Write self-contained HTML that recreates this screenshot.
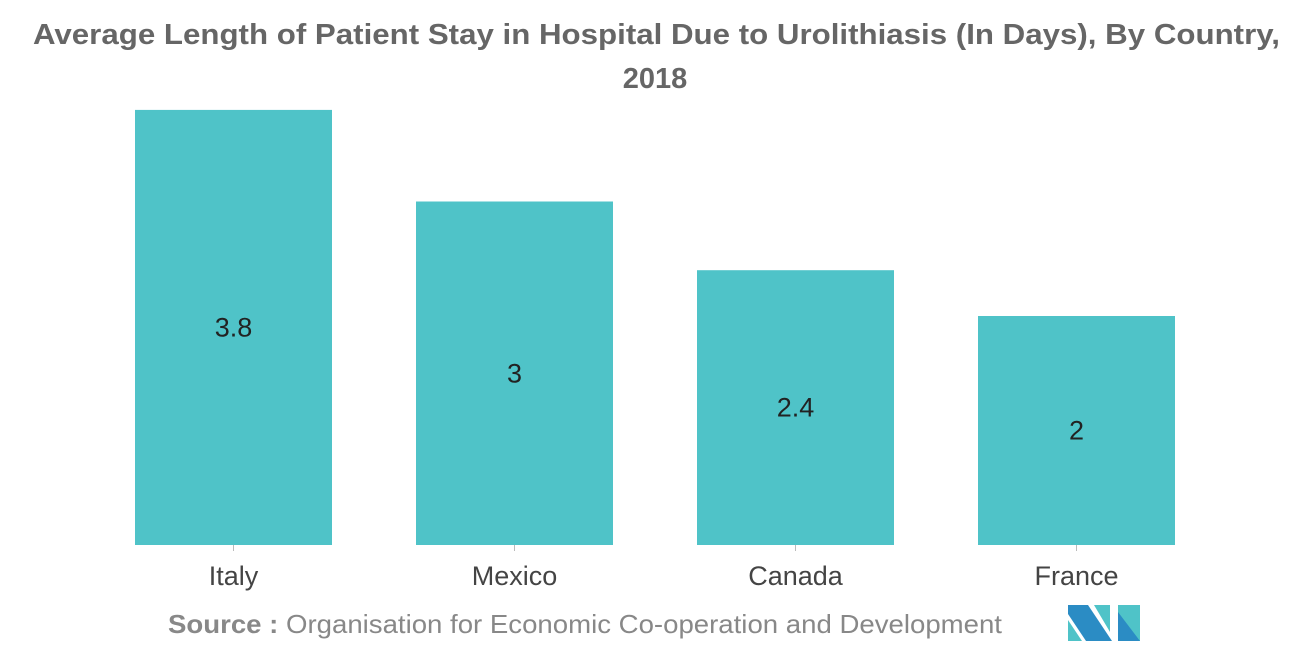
<!DOCTYPE html>
<html><head><meta charset="utf-8"><style>
body{margin:0;background:#fff;width:1310px;height:655px;overflow:hidden;font-family:"Liberation Sans",sans-serif}
</style></head><body>
<svg width="1310" height="655">
<text x="33" y="44" textLength="1247" lengthAdjust="spacingAndGlyphs" font-size="29" font-weight="bold" fill="#666">Average Length of Patient Stay in Hospital Due to Urolithiasis (In Days), By Country,</text>
<text x="655" y="88" text-anchor="middle" font-size="29" font-weight="bold" fill="#666">2018</text>
<g id="bars"></g>
<text x="168" y="633" textLength="834" lengthAdjust="spacingAndGlyphs" font-size="26" fill="#888"><tspan font-weight="bold">Source :</tspan> Organisation for Economic Co-operation and Development</text>
<g>
<polygon points="1068,641 1068,620 1082,641" fill="#4fc3c8"/>
<polygon points="1068,605 1088,605 1112,641 1086,641 1068,614" fill="#2b8cc4"/>
<polygon points="1094,605 1110,605 1110,632" fill="#4fc3c8"/>
<polygon points="1118,605 1140,605 1140,641 1118,641" fill="#4fc3c8"/>
<polygon points="1118,612 1140,641 1118,641" fill="#2b8cc4"/>
</g>
</svg>
<script>
const categories=["Italy","Mexico","Canada","France"];
const values=[3.8,3,2.4,2];
const g=document.getElementById('bars');
const ns='http://www.w3.org/2000/svg';
const base=545, pxPer=114.5, x0=135, step=281, bw=197;
const y=v=>base-v*pxPer;
categories.forEach((c,i)=>{
  const x=x0+i*step;
  const r=document.createElementNS(ns,'rect');
  r.setAttribute('x',x);r.setAttribute('y',y(values[i]));r.setAttribute('width',bw);r.setAttribute('height',base-y(values[i]));r.setAttribute('fill','#4fc3c8');
  
  
  g.appendChild(r);
  const t=document.createElementNS(ns,'text');
  t.setAttribute('x',x+bw/2);t.setAttribute('y',(y(values[i])+base)/2+9);t.setAttribute('text-anchor','middle');t.setAttribute('font-size','27');t.setAttribute('fill','#222');
  t.textContent=values[i];
  
  
  g.appendChild(t);
  const tk=document.createElementNS(ns,'line');
  tk.setAttribute('x1',x+bw/2);tk.setAttribute('x2',x+bw/2);tk.setAttribute('y1',base);tk.setAttribute('y2',base+6);tk.setAttribute('stroke','#bbb');
  
  
  g.appendChild(tk);
  const l=document.createElementNS(ns,'text');
  l.setAttribute('x',x+bw/2);l.setAttribute('y',585);l.setAttribute('text-anchor','middle');l.setAttribute('font-size','27');l.setAttribute('fill','#444');
  l.textContent=c;
  
  
  g.appendChild(l);
});
</script>
</body></html>
